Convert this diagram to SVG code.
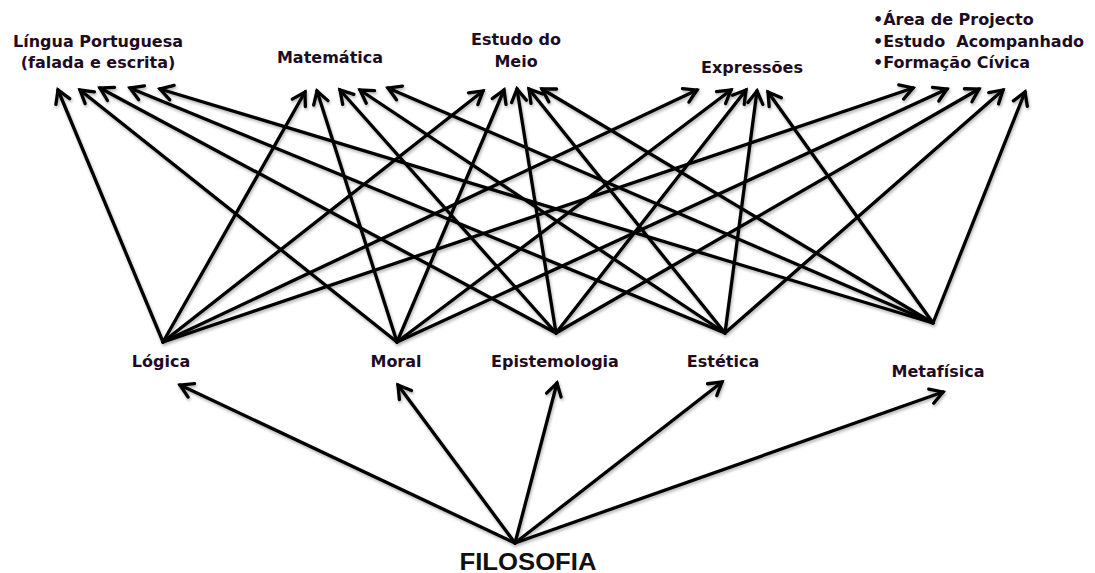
<svg xmlns="http://www.w3.org/2000/svg" width="1095" height="573" viewBox="0 0 1095 573">
<defs>
<style>
.lbl{font-family:"DejaVu Sans",Verdana,sans-serif;font-weight:bold;font-size:16px;fill:#1e0c22;}
.root{font-family:"Liberation Sans",Arial,sans-serif;font-weight:bold;font-size:23px;fill:#111;}
.c line{stroke:#000;stroke-width:3.3;stroke-linecap:round;marker-end:url(#ah);}
</style>
<marker id="ah" markerUnits="userSpaceOnUse" markerWidth="34" markerHeight="34" viewBox="-17 -17 34 34" refX="0" refY="0" orient="auto">
<path d="M-12.5,-7.5 L0,0 L-12.5,7.5" fill="none" stroke="#000" stroke-width="3.3" stroke-linejoin="miter" stroke-linecap="round"/>
</marker>
<filter id="sh" x="-5%" y="-5%" width="110%" height="110%">
<feDropShadow dx="1" dy="2" stdDeviation="1.5" flood-color="#000" flood-opacity="0.3"/>
</filter>
</defs>
<rect width="1095" height="573" fill="#fff"/>

<g id="lingua"><text class="lbl" x="98" y="47" text-anchor="middle">Língua Portuguesa</text><text class="lbl" x="98" y="68" text-anchor="middle">(falada e escrita)</text></g>
<g id="matematica"><text class="lbl" x="330" y="63" text-anchor="middle">Matemática</text></g>
<g id="estudo-meio"><text class="lbl" x="516" y="45" text-anchor="middle">Estudo do</text><text class="lbl" x="516" y="67" text-anchor="middle">Meio</text></g>
<g id="expressoes"><text class="lbl" x="752" y="73" text-anchor="middle">Expressões</text></g>
<g id="areas"><text class="lbl" x="873" y="25">•Área de Projecto</text><text class="lbl" x="873" y="47" xml:space="preserve">•Estudo  Acompanhado</text><text class="lbl" x="873" y="68">•Formação Cívica</text></g>

<g id="logica"><text class="lbl" x="161" y="367" text-anchor="middle">Lógica</text></g>
<g id="moral"><text class="lbl" x="396" y="367" text-anchor="middle">Moral</text></g>
<g id="epistemologia"><text class="lbl" x="555" y="367" text-anchor="middle">Epistemologia</text></g>
<g id="estetica"><text class="lbl" x="723" y="367" text-anchor="middle">Estética</text></g>
<g id="metafisica"><text class="lbl" x="938" y="377" text-anchor="middle">Metafísica</text></g>
<g id="filosofia"><text class="root" x="528" y="570" text-anchor="middle" textLength="137" lengthAdjust="spacingAndGlyphs">FILOSOFIA</text></g>

<g id="connectors" class="c" filter="url(#sh)">
<!-- Lógica -->
<line x1="163" y1="342" x2="58" y2="90"/>
<line x1="163" y1="342" x2="305" y2="92"/>
<line x1="163" y1="342" x2="483" y2="91"/>
<line x1="163" y1="342" x2="697" y2="90"/>
<line x1="163" y1="342" x2="913" y2="88"/>
<!-- Moral -->
<line x1="397" y1="342" x2="80" y2="90"/>
<line x1="397" y1="342" x2="317" y2="91"/>
<line x1="397" y1="342" x2="504" y2="90"/>
<line x1="397" y1="342" x2="731" y2="90"/>
<line x1="397" y1="342" x2="947" y2="89"/>
<!-- Epistemologia -->
<line x1="556" y1="333" x2="100" y2="88"/>
<line x1="556" y1="333" x2="340" y2="90"/>
<line x1="556" y1="333" x2="517" y2="89"/>
<line x1="556" y1="333" x2="746" y2="90"/>
<line x1="556" y1="333" x2="979" y2="89"/>
<!-- Estética -->
<line x1="725" y1="333" x2="130" y2="88"/>
<line x1="725" y1="333" x2="360" y2="90"/>
<line x1="725" y1="333" x2="529" y2="89"/>
<line x1="725" y1="333" x2="757" y2="91"/>
<line x1="725" y1="333" x2="1003" y2="90"/>
<!-- Metafísica -->
<line x1="933" y1="323" x2="160" y2="89"/>
<line x1="933" y1="323" x2="388" y2="88"/>
<line x1="933" y1="323" x2="542" y2="89"/>
<line x1="933" y1="323" x2="768" y2="92"/>
<line x1="933" y1="323" x2="1025" y2="92"/>
<!-- Filosofia -->
<line x1="515" y1="543" x2="180" y2="385"/>
<line x1="515" y1="543" x2="398" y2="385"/>
<line x1="515" y1="543" x2="557" y2="383"/>
<line x1="515" y1="543" x2="722" y2="382"/>
<line x1="515" y1="543" x2="943" y2="392"/>
</g>
</svg>
